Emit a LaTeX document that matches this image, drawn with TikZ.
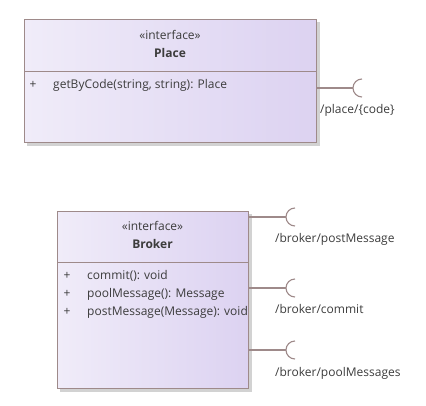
\documentclass[tikz,border=0pt]{standalone}
\usepackage{fontspec}
\setmainfont{Open Sans}
\usetikzlibrary{calc}
\definecolor{boxline}{HTML}{9E8A8A}
\definecolor{boxleft}{HTML}{F0ECF9}
\definecolor{boxright}{HTML}{DCD2F1}
\definecolor{shadowc}{HTML}{D2D2D2}
\definecolor{txt}{HTML}{3C3C3C}
\definecolor{conn}{HTML}{9E8A8A}
\tikzset{
  umlbox/.style={draw=boxline, line width=0.9pt, left color=boxleft, right color=boxright, inner sep=0pt, anchor=north west},
  boxshadow/.style={fill=shadowc, draw=none},
  txtnode/.style={inner sep=0pt, text=txt, font=\fontsize{12}{14}\selectfont},
  lbl/.style={inner sep=0pt, text=txt, font=\fontsize{12}{14}\selectfont, anchor=west},
  connector/.style={draw=conn, line width=1.1pt},
}
\begin{document}
\begin{tikzpicture}[x=1pt,y=-1pt]
\useasboundingbox (0,0) rectangle (426,405);
% Place
\fill[boxshadow] (27,22) rectangle (320,146);
\node[umlbox, minimum width=292pt, minimum height=123pt] (place) at (24,19) {};
\draw[draw=boxline, line width=0.9pt] (24,71) -- (316,71);
\node[txtnode] (placest) at (170,35) {«interface»};
\node[txtnode, font=\fontsize{12}{14}\selectfont\bfseries] (placename) at (170,53) {Place};
\node[txtnode] (placevis) at (33,85) {+};
\node[txtnode, anchor=west] (placeop) at (53,85) {getByCode(string, string): Place};
\coordinate (ps1) at (353,88);
\draw[connector] (ps1 -| place.east) -- (ps1);
\draw[connector] ($(ps1)+(9,-9)$) arc[start angle=90, end angle=270, radius=9pt];
\node[lbl] (pl1) at (320,110) {/place/\{code\}};
% Broker
\fill[boxshadow] (60,214) rectangle (252,392);
\node[umlbox, minimum width=191pt, minimum height=177pt] (broker) at (57,211) {};
\draw[draw=boxline, line width=0.9pt] (57,262) -- (248,262);
\node[txtnode] (brokerst) at (152.5,226) {«interface»};
\node[txtnode, font=\fontsize{12}{14}\selectfont\bfseries] (brokername) at (152.5,244) {Broker};
\node[txtnode] (bv1) at (67,276) {+};
\node[txtnode] (bv2) at (67,294) {+};
\node[txtnode] (bv3) at (67,312) {+};
\node[txtnode, anchor=west] (bo1) at (87,276) {commit(): void};
\node[txtnode, anchor=west] (bo2) at (87,294) {poolMessage(): Message};
\node[txtnode, anchor=west] (bo3) at (87,312) {postMessage(Message): void};
\coordinate (bs1) at (286,217);
\coordinate (bs2) at (286,288);
\coordinate (bs3) at (286,350);
\foreach \s in {bs1,bs2,bs3}{
  \draw[connector] (\s -| broker.east) -- (\s);
  \draw[connector] ($(\s)+(9,-9)$) arc[start angle=90, end angle=270, radius=9pt];
}
\node[lbl] (bl1) at (275,239) {/broker/postMessage};
\node[lbl] (bl2) at (275,309) {/broker/commit};
\node[lbl] (bl3) at (275,373) {/broker/poolMessages};
\end{tikzpicture}
\end{document}
